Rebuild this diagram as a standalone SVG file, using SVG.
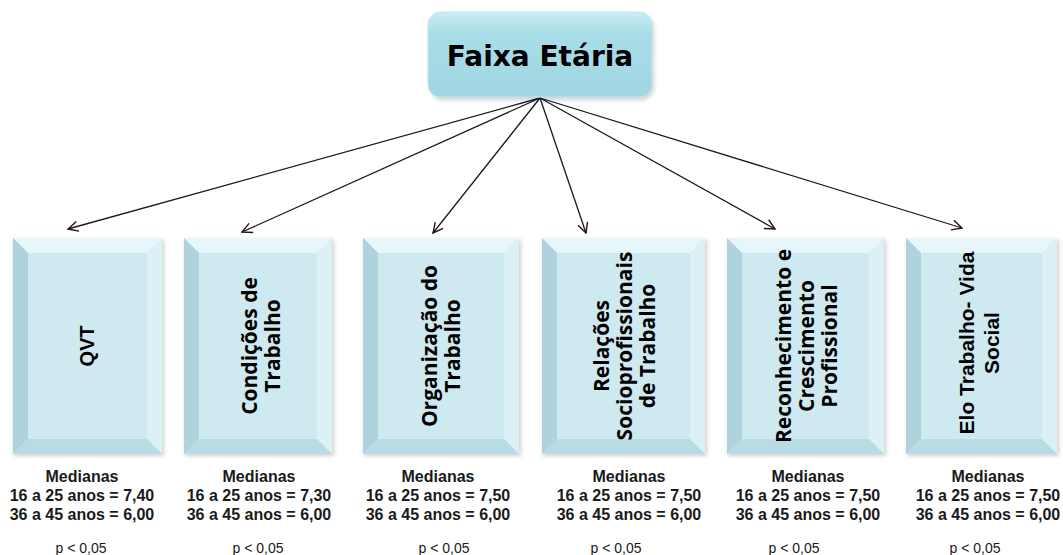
<svg xmlns="http://www.w3.org/2000/svg" width="1063" height="555" viewBox="0 0 1063 555">
<defs>
<style>
.lbl{font-family:"Liberation Sans",Arial,sans-serif;font-weight:bold;font-size:20px;fill:#000;text-anchor:middle}
.os{font-family:"Open Sans","Liberation Sans",sans-serif;font-weight:bold;font-size:21px;fill:#000;text-anchor:middle}
.med{font-family:"Liberation Sans",Arial,sans-serif;font-weight:bold;font-size:16px;fill:#1a1a1a;text-anchor:middle}
.p{font-family:"Liberation Sans",Arial,sans-serif;font-size:14px;fill:#1a1a1a;text-anchor:middle}
.conn{stroke:#1a1a1a;stroke-width:1.3;fill:none}
.face{fill:#cfe9f0}
.bt{fill:#e6f6fa}
.bl{fill:#aed3dc}
.br{fill:#dcf1f6}
.bb{fill:#b9dbe3}
.shadow{fill:#000;opacity:0.18}
</style>
<marker id="arr" viewBox="0 0 12 12" refX="11" refY="6" markerWidth="12" markerHeight="12" markerUnits="userSpaceOnUse" orient="auto">
<path d="M1,1 L11,6 L1,11" fill="none" stroke="#1a1a1a" stroke-width="1.4"/>
</marker>
<linearGradient id="topg" x1="0" y1="0" x2="0" y2="1">
<stop offset="0" stop-color="#c9eef5"/>
<stop offset="0.25" stop-color="#a9dde8"/>
<stop offset="1" stop-color="#9fd6e2"/>
</linearGradient>
<filter id="blur" x="-10%" y="-10%" width="120%" height="130%"><feGaussianBlur stdDeviation="2"/></filter>
</defs>
<g id="connectors">
<line class="conn" x1="540" y1="98" x2="68" y2="229" marker-end="url(#arr)"/>
<line class="conn" x1="540" y1="98" x2="242" y2="232" marker-end="url(#arr)"/>
<line class="conn" x1="540" y1="98" x2="433" y2="233" marker-end="url(#arr)"/>
<line class="conn" x1="540" y1="98" x2="586" y2="233" marker-end="url(#arr)"/>
<line class="conn" x1="540" y1="98" x2="775" y2="229" marker-end="url(#arr)"/>
<line class="conn" x1="540" y1="98" x2="962" y2="228" marker-end="url(#arr)"/>
</g>
<g id="faixa">
<rect x="430" y="15" width="224" height="85" rx="13" class="shadow" filter="url(#blur)"/>
<rect x="428" y="12" width="224" height="85" rx="13" fill="url(#topg)" stroke="#bfe5ee" stroke-width="1"/>
<text x="540" y="66" text-anchor="middle" font-family="'DejaVu Sans',Verdana,sans-serif" font-weight="bold" font-size="28" fill="#000">Faixa Etária</text>
</g>
<g id="qvt">
<rect x="14" y="240" width="150" height="216" class="shadow" filter="url(#blur)"/>
<rect x="13" y="238" width="149" height="216" class="face"/>
<polygon class="bt" points="13,238 162,238 147,253 28,253"/>
<polygon class="bl" points="13,238 28,253 28,439 13,454"/>
<polygon class="br" points="162,238 162,454 147,439 147,253"/>
<polygon class="bb" points="13,454 28,439 147,439 162,454"/>
<text class="lbl" transform="translate(94,346) rotate(-90)">QVT</text>
<text class="med" x="82" y="482">Medianas</text>
<text class="med" x="82" y="501">16 a 25 anos = 7,40</text>
<text class="med" x="82" y="520">36 a 45 anos = 6,00</text>
<text class="p" x="81" y="553">p &lt; 0,05</text>
</g>
<g id="condicoes">
<rect x="185" y="240" width="149" height="216" class="shadow" filter="url(#blur)"/>
<rect x="184" y="238" width="148" height="216" class="face"/>
<polygon class="bt" points="184,238 332,238 317,253 199,253"/>
<polygon class="bl" points="184,238 199,253 199,439 184,454"/>
<polygon class="br" points="332,238 332,454 317,439 317,253"/>
<polygon class="bb" points="184,454 199,439 317,439 332,454"/>
<text class="os" transform="rotate(-90 250 346)"><tspan x="250" y="353">Condições de</tspan><tspan x="250" y="376">Trabalho</tspan></text>
<text class="med" x="259" y="482">Medianas</text>
<text class="med" x="259" y="501">16 a 25 anos = 7,30</text>
<text class="med" x="259" y="520">36 a 45 anos = 6,00</text>
<text class="p" x="258" y="553">p &lt; 0,05</text>
</g>
<g id="organizacao">
<rect x="364" y="240" width="157" height="216" class="shadow" filter="url(#blur)"/>
<rect x="363" y="238" width="156" height="216" class="face"/>
<polygon class="bt" points="363,238 519,238 504,253 378,253"/>
<polygon class="bl" points="363,238 378,253 378,439 363,454"/>
<polygon class="br" points="519,238 519,454 504,439 504,253"/>
<polygon class="bb" points="363,454 378,439 504,439 519,454"/>
<text class="os" transform="rotate(-90 430 346)"><tspan x="430" y="353">Organização do</tspan><tspan x="430" y="376">Trabalho</tspan></text>
<text class="med" x="438" y="482">Medianas</text>
<text class="med" x="438" y="501">16 a 25 anos = 7,50</text>
<text class="med" x="438" y="520">36 a 45 anos = 6,00</text>
<text class="p" x="444" y="553">p &lt; 0,05</text>
</g>
<g id="relacoes">
<rect x="543" y="240" width="164" height="216" class="shadow" filter="url(#blur)"/>
<rect x="542" y="238" width="163" height="216" class="face"/>
<polygon class="bt" points="542,238 705,238 690,253 557,253"/>
<polygon class="bl" points="542,238 557,253 557,439 542,454"/>
<polygon class="br" points="705,238 705,454 690,439 690,253"/>
<polygon class="bb" points="542,454 557,439 690,439 705,454"/>
<text class="os" transform="rotate(-90 602 346)"><tspan x="602" y="353">Relações</tspan><tspan x="602" y="376">Socioprofissionais</tspan><tspan x="602" y="399">de Trabalho</tspan></text>
<text class="med" x="629" y="482">Medianas</text>
<text class="med" x="629" y="501">16 a 25 anos = 7,50</text>
<text class="med" x="629" y="520">36 a 45 anos = 6,00</text>
<text class="p" x="616" y="553">p &lt; 0,05</text>
</g>
<g id="reconhecimento">
<rect x="728" y="240" width="158" height="216" class="shadow" filter="url(#blur)"/>
<rect x="727" y="238" width="157" height="216" class="face"/>
<polygon class="bt" points="727,238 884,238 869,253 742,253"/>
<polygon class="bl" points="727,238 742,253 742,439 727,454"/>
<polygon class="br" points="884,238 884,454 869,439 869,253"/>
<polygon class="bb" points="727,454 742,439 869,439 884,454"/>
<text class="os" transform="rotate(-90 784 346)"><tspan x="784" y="353">Reconhecimento e</tspan><tspan x="784" y="376">Crescimento</tspan><tspan x="784" y="399">Profissional</tspan></text>
<text class="med" x="808" y="482">Medianas</text>
<text class="med" x="808" y="501">16 a 25 anos = 7,50</text>
<text class="med" x="808" y="520">36 a 45 anos = 6,00</text>
<text class="p" x="794" y="553">p &lt; 0,05</text>
</g>
<g id="elo">
<rect x="907" y="240" width="152" height="216" class="shadow" filter="url(#blur)"/>
<rect x="906" y="238" width="151" height="216" class="face"/>
<polygon class="bt" points="906,238 1057,238 1042,253 921,253"/>
<polygon class="bl" points="906,238 921,253 921,439 906,454"/>
<polygon class="br" points="1057,238 1057,454 1042,439 1042,253"/>
<polygon class="bb" points="906,454 921,439 1042,439 1057,454"/>
<text class="lbl" font-size="21" style="font-size:21px" transform="rotate(-90 967 343)"><tspan x="967" y="350">Elo Trabalho- Vida</tspan><tspan x="967" y="375">Social</tspan></text>
<text class="med" x="988" y="482">Medianas</text>
<text class="med" x="988" y="501">16 a 25 anos = 7,50</text>
<text class="med" x="988" y="520">36 a 45 anos = 6,00</text>
<text class="p" x="975" y="553">p &lt; 0,05</text>
</g>
</svg>
